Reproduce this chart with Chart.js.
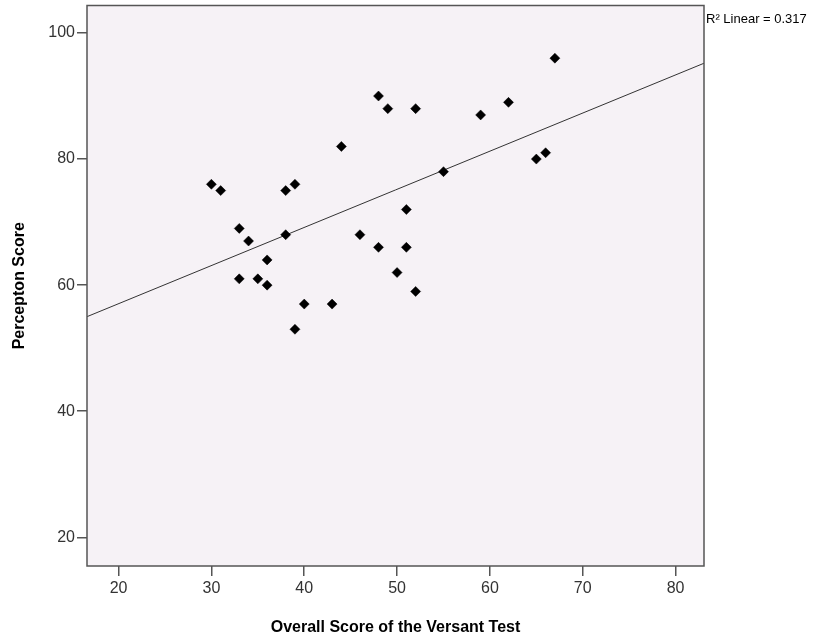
<!DOCTYPE html>
<html lang="en">
<head>
    <meta charset="UTF-8">
    <title>Percepton Score vs Versant</title>
    <script src="https://cdn.jsdelivr.net/npm/chart.js"></script>
    <style>
        body {
            margin: 0;
            background: #fff;
        }
        #wrap {
            width: 819px;
            height: 643px;
        }
    </style>
</head>
<body>
    <div id="wrap"><canvas id="scatterChart"></canvas></div>
    <script>
        // Valeurs
        const versantScores = [30, 31, 38, 39, 55, 33, 34, 38, 51, 46, 48, 51, 36, 33, 35,
                               36, 50, 52, 40, 43, 39, 59, 62, 65, 66, 44, 48, 49, 52, 67];
        const perceptonScores = [76, 75, 75, 76, 78, 69, 67, 68, 72, 68, 66, 66, 64, 61, 61,
                                 60, 62, 59, 57, 57, 53, 87, 89, 80, 81, 82, 90, 88, 88, 96];

        // Droite de regression (extremites lues aux bords du cadre)
        const fitX = [16.6, 83.06];
        const fitY = [55.0, 95.2];
        const r2Label = 'R² Linear = 0.317';

        const xTicks = [20, 30, 40, 50, 60, 70, 80];
        const yTicks = [20, 40, 60, 80, 100];

        const tickFont = { family: "'Liberation Sans Narrow', 'Liberation Sans', Arial, sans-serif", size: 16 };
        const titleFont = { family: "'Liberation Sans', Arial, sans-serif", size: 16, weight: 'bold' };

        // Fond du cadre, bordure et etiquette R2
        const framePlugin = {
            id: 'frame',
            beforeDatasetsDraw(chart) {
                const { ctx, chartArea: a } = chart;
                ctx.save();
                ctx.fillStyle = '#f6f2f6';
                ctx.fillRect(a.left, a.top, a.right - a.left, a.bottom - a.top);
                ctx.restore();
            },
            afterDraw(chart) {
                const { ctx, chartArea: a } = chart;
                ctx.save();
                ctx.strokeStyle = '#555';
                ctx.lineWidth = 1.5;
                ctx.strokeRect(a.left, a.top, a.right - a.left, a.bottom - a.top);
                ctx.fillStyle = '#000';
                ctx.font = "13px 'Liberation Sans', Arial, sans-serif";
                ctx.textBaseline = 'alphabetic';
                ctx.fillText(r2Label, a.right + 2, a.top + 17);
                ctx.restore();
            }
        };

        const ctx = document.getElementById('scatterChart').getContext('2d');
        new Chart(ctx, {
            type: 'scatter',
            data: {
                datasets: [
                    {
                        label: 'Scores',
                        data: versantScores.map((x, i) => ({ x: x, y: perceptonScores[i] })),
                        pointStyle: 'rectRot',
                        pointRadius: 5,
                        pointBorderWidth: 0.5,
                        backgroundColor: '#000',
                        borderColor: '#000',
                        order: 1
                    },
                    {
                        label: 'Linear',
                        data: fitX.map((x, i) => ({ x: x, y: fitY[i] })),
                        showLine: true,
                        pointRadius: 0,
                        borderColor: '#333',
                        borderWidth: 1,
                        order: 2
                    }
                ]
            },
            options: {
                responsive: true,
                maintainAspectRatio: false,
                animation: false,
                layout: {
                    padding: { top: 5, right: 115, left: 0, bottom: 0 }
                },
                plugins: {
                    legend: { display: false },
                    tooltip: { enabled: false }
                },
                scales: {
                    x: {
                        type: 'linear',
                        min: 16.6,
                        max: 83.06,
                        afterBuildTicks: s => { s.ticks = xTicks.map(v => ({ value: v })); },
                        afterFit: s => {
                            s.height = 77;
                            s.paddingLeft = 0;
                            s.paddingRight = 0;
                        },
                        border: { display: false },
                        grid: {
                            drawOnChartArea: false,
                            drawTicks: true,
                            tickLength: 10,
                            color: '#555',
                            lineWidth: 1.5
                        },
                        ticks: {
                            font: tickFont,
                            color: '#333',
                            padding: 3,
                            maxRotation: 0
                        },
                        title: {
                            display: true,
                            text: 'Overall Score of the Versant Test',
                            font: titleFont,
                            color: '#000',
                            padding: { top: 0, bottom: 6 }
                        }
                    },
                    y: {
                        type: 'linear',
                        min: 15.45,
                        max: 104.36,
                        afterBuildTicks: s => { s.ticks = yTicks.map(v => ({ value: v })); },
                        afterFit: s => {
                            s.width = 87;
                            s.paddingTop = 0;
                            s.paddingBottom = 0;
                        },
                        border: { display: false },
                        grid: {
                            drawOnChartArea: false,
                            drawTicks: true,
                            tickLength: 10,
                            color: '#555',
                            lineWidth: 1.5
                        },
                        ticks: {
                            font: tickFont,
                            color: '#333',
                            padding: 2
                        },
                        title: {
                            display: true,
                            text: 'Percepton Score',
                            font: titleFont,
                            color: '#000',
                            padding: { top: 10, bottom: 0 }
                        }
                    }
                }
            },
            plugins: [framePlugin]
        });
    </script>
</body>
</html>
